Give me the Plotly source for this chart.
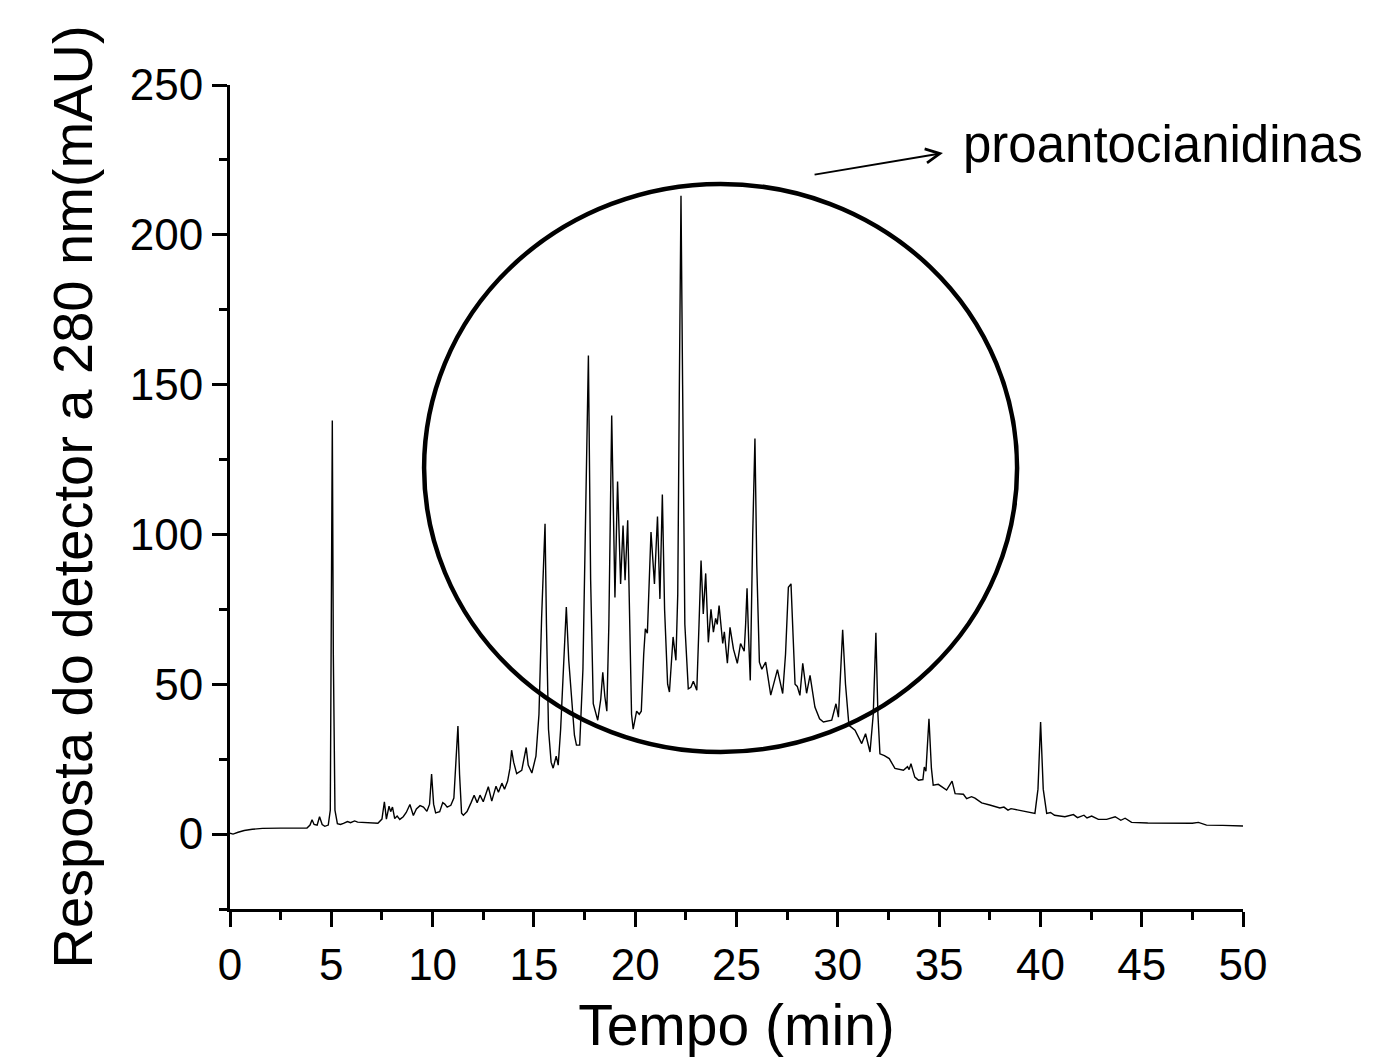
import plotly.graph_objects as go

# Chromatogram vertices (time in min, response in mAU)
time_min = [
    0.0, 0.15, 0.4, 0.7, 1.1, 1.6, 2.5, 3.2, 3.8, 3.95, 4.05, 4.15, 4.3, 4.42, 4.55, 4.68, 4.85,
    4.95, 5.0, 5.05, 5.1, 5.18, 5.3, 5.45, 5.6, 5.8, 5.95, 6.15, 6.3, 6.6, 7.0, 7.3, 7.5, 7.62,
    7.72, 7.85, 7.93, 8.02, 8.13, 8.25, 8.38, 8.55, 8.7, 8.88, 9.05, 9.2, 9.38, 9.55, 9.72, 9.85,
    9.95, 10.05, 10.15, 10.35, 10.5, 10.6, 10.72, 10.9, 11.05, 11.17, 11.25, 11.33, 11.43, 11.52,
    11.7, 11.9, 12.05, 12.2, 12.34, 12.5, 12.75, 12.92, 13.13, 13.25, 13.42, 13.55, 13.7, 13.82,
    13.9, 14.0, 14.15, 14.4, 14.52, 14.62, 14.72, 14.9, 15.1, 15.25, 15.38, 15.5, 15.55, 15.62,
    15.72, 15.85, 15.95, 16.1, 16.2, 16.32, 16.48, 16.6, 16.72, 16.87, 17.0, 17.1, 17.26, 17.42,
    17.57, 17.69, 17.8, 17.93, 18.15, 18.3, 18.4, 18.5, 18.6, 18.7, 18.84, 18.95, 19.0, 19.13,
    19.28, 19.4, 19.5, 19.63, 19.72, 19.82, 19.9, 20.07, 20.2, 20.3, 20.42, 20.5, 20.6, 20.7,
    20.78, 20.95, 21.1, 21.22, 21.34, 21.45, 21.6, 21.69, 21.8, 21.87, 22.01, 22.1, 22.18, 22.26,
    22.34, 22.45, 22.62, 22.75, 22.87, 23.04, 23.15, 23.25, 23.36, 23.48, 23.61, 23.74, 23.86,
    23.97, 24.05, 24.14, 24.32, 24.4, 24.55, 24.68, 24.85, 25.04, 25.2, 25.38, 25.45, 25.52,
    25.6, 25.68, 25.8, 25.91, 26.0, 26.13, 26.25, 26.44, 26.69, 27.02, 27.28, 27.42, 27.56,
    27.69, 27.8, 27.89, 28.0, 28.13, 28.27, 28.46, 28.63, 28.87, 29.1, 29.29, 29.7, 29.91,
    30.03, 30.12, 30.24, 30.38, 30.55, 30.85, 31.18, 31.37, 31.59, 31.75, 31.88, 31.98, 32.08,
    32.3, 32.54, 32.82, 33.24, 33.44, 33.52, 33.61, 33.8, 33.98, 34.2, 34.27, 34.35, 34.5,
    34.62, 34.71, 34.96, 35.37, 35.64, 35.79, 36.2, 36.36, 36.6, 36.77, 37.1, 37.5, 38.0, 38.2,
    38.4, 38.55, 39.0, 39.73, 39.88, 40.01, 40.14, 40.31, 40.5, 40.7, 41.21, 41.63, 41.83,
    42.15, 42.3, 42.53, 42.86, 43.27, 43.69, 43.97, 44.18, 44.5, 45.3, 46.2, 47.5, 47.8, 48.2,
    49.0, 50.0,
]
response_mau = [
    0.3, 0.0, 0.6, 1.2, 1.6, 1.9, 2.0, 2.1, 2.0, 3.0, 4.8, 3.2, 3.0, 5.8, 3.2, 2.6, 3.0,
    8, 60, 138, 60, 8, 3.5, 3.2, 3.6, 4.2, 3.8, 4.4, 4.0, 3.9, 3.6, 3.6, 5.0, 10.8,
    5.0, 9.3, 7.5, 9.0, 5.2, 6.0, 4.9, 5.8, 7.2, 9.9, 6.2, 8.4, 9.5, 9.0, 7.6, 10,
    20, 10, 7.1, 7.5, 10.5, 10.0, 9.0, 9.6, 12, 25, 36.1, 20, 7, 6.3,
    7.5, 10.5, 13, 10.5, 13, 10.8, 15.8, 11, 16, 14, 17, 15, 17.6, 22,
    28, 24, 20.2, 21.3, 25, 28.9, 23, 20.4, 26, 40, 72, 100, 103.6, 70,
    35, 24, 22, 26, 23, 35, 60, 75.8, 58, 45.8, 33, 29.7, 29.7, 55,
    120, 159.7, 85, 43.5, 38, 45, 54, 46, 41, 70, 139.7, 100, 79, 117.7,
    83.5, 103, 84.7, 104.7, 70, 40, 35, 41, 40, 41, 60, 68.5, 67, 85,
    100.8, 83.5, 106, 78.5, 113.3, 75, 50, 47.4, 58, 65.8, 58, 80, 150, 213,
    150, 70, 48.5, 49, 51, 48, 70, 91.3, 73.5, 87, 64, 75, 67.4,
    72, 70, 76.3, 63.6, 67.5, 57, 69, 61.7, 57, 63.6, 61, 70, 82,
    65, 51.3, 100, 132, 90, 57.4, 55, 57.4, 46.4, 54.9, 46.9, 60, 82.4,
    83.5, 65, 50, 49.3, 46.3, 57, 47, 53, 42.4, 38.5, 37.4, 38, 43.5,
    39, 50, 68.2, 50, 36.3, 34.7, 30.2, 33.5, 27.4, 40, 67.2, 40, 26.8,
    26.2, 25.2, 21.9, 21.3, 22.5, 21.5, 23.5, 19, 18, 18.2, 22.4, 21, 38.5,
    22, 16.3, 16.6, 14.7, 17.7, 13.5, 13.3, 11.8, 12.5, 12, 10.4, 9.7, 8.7, 9.0,
    8.0, 8.5, 7.8, 6.9, 15, 37.4, 15, 6.9, 7.2, 6.3, 5.8, 6.5, 5.5,
    6.3, 5.4, 6.0, 4.9, 4.9, 5.8, 4.6, 5.3, 3.9, 3.7, 3.6, 3.6, 3.9, 3.0,
    2.9, 2.7,
]

x_ticks = [0, 5, 10, 15, 20, 25, 30, 35, 40, 45, 50]
y_ticks = [0, 50, 100, 150, 200, 250]

label_text = "proantocianidinas"
x_title = "Tempo (min)"
y_title = "Resposta do detector a 280 nm(mAU)"

font_family = "Liberation Sans, Arial, sans-serif"

fig = go.Figure()
fig.add_trace(go.Scatter(
    x=time_min, y=response_mau, mode="lines",
    line=dict(color="black", width=1.4),
    showlegend=False, hoverinfo="skip",
))

# circle marking the proanthocyanidin region
fig.add_shape(type="circle", xref="x", yref="y",
              x0=9.58, x1=38.85, y0=27.4, y1=217,
              line=dict(color="black", width=4.5), layer="above")

# arrow
fig.add_annotation(x=35.19, y=227.3, ax=28.78, ay=220, xref="x", yref="y",
                   axref="x", ayref="y", text="", showarrow=True,
                   arrowhead=5, arrowsize=1.4, arrowwidth=2, arrowcolor="black")
# label
fig.add_annotation(x=36.1, y=230, xref="x", yref="y", text=label_text,
                   showarrow=False, xanchor="left", yanchor="middle",
                   font=dict(family=font_family, size=51, color="black"))

axis_common = dict(
    showline=True, linecolor="black", linewidth=3,
    ticks="outside", ticklen=15, tickwidth=3, tickcolor="black",
    showgrid=False, zeroline=False, mirror=False,
    tickfont=dict(family=font_family, size=44, color="black"),
)

fig.update_xaxes(range=[0, 50], tickvals=x_ticks, ticktext=[str(v) for v in x_ticks],
                 minor=dict(dtick=2.5, tick0=0, ticks="outside", ticklen=8, tickwidth=3,
                            tickcolor="black", showgrid=False),
                 title=dict(text=x_title, font=dict(family=font_family, size=57, color="black"),
                            standoff=22),
                 **axis_common)
fig.update_yaxes(range=[-25, 250], tickvals=y_ticks, ticktext=[str(v) for v in y_ticks],
                 minor=dict(dtick=25, tick0=0, ticks="outside", ticklen=8, tickwidth=3,
                            tickcolor="black", showgrid=False),
                 title=dict(text=y_title, font=dict(family=font_family, size=56, color="black"),
                            standoff=20),
                 **axis_common)

# page body has an 8px margin, so the figure is sized/offset to compensate
fig.update_layout(
    width=1367, height=1049,
    margin=dict(l=222, r=132, t=77, b=148, autoexpand=False),
    plot_bgcolor="white", paper_bgcolor="white",
    font=dict(family=font_family, color="black"),
)

fig.write_html("out.html")
